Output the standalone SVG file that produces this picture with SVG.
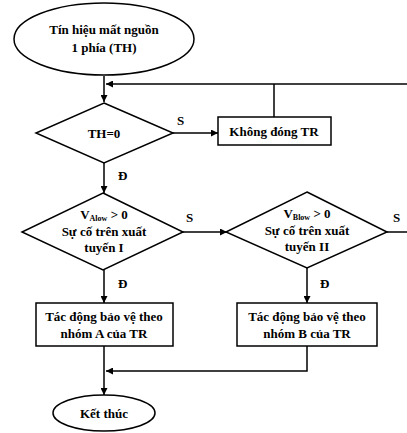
<svg xmlns="http://www.w3.org/2000/svg" width="407" height="433" viewBox="0 0 407 433">
  <style>
    .shape { fill: #ffffff; stroke: #000000; stroke-width: 1.5; }
    .line { fill: none; stroke: #000000; stroke-width: 1.5; }
    text { font-family: "Liberation Serif", "Times New Roman", serif; font-weight: bold; font-size: 13px; fill: #000000; text-anchor: middle; }
    .lbl { text-anchor: start; }
    .sub { font-size: 8px; }
  </style>
  <defs>
    <marker id="arrow" viewBox="0 0 10 10" refX="10" refY="5" markerWidth="7" markerHeight="7" markerUnits="userSpaceOnUse" orient="auto">
      <path d="M0,0 L10,5 L0,10 z" fill="#000000"/>
    </marker>
  </defs>
  <rect width="407" height="433" fill="#ffffff"/>

  <g id="connectors">
    <path class="line" d="M104,76 V102" marker-end="url(#arrow)"/>
    <path class="line" d="M407,84 H106" marker-end="url(#arrow)"/>
    <path class="line" d="M274,117 V84"/>
    <path class="line" d="M173,133 H218" marker-end="url(#arrow)"/>
    <path class="line" d="M104,163 V193" marker-end="url(#arrow)"/>
    <path class="line" d="M183,232 H227" marker-end="url(#arrow)"/>
    <path class="line" d="M387,232 H407"/>
    <path class="line" d="M104,270 V303" marker-end="url(#arrow)"/>
    <path class="line" d="M307,268 V303" marker-end="url(#arrow)"/>
    <path class="line" d="M307,346 V371 H106" marker-end="url(#arrow)"/>
    <path class="line" d="M104,346 V395" marker-end="url(#arrow)"/>
    <text class="lbl" x="177" y="125">S</text>
    <text class="lbl" x="118" y="180">Đ</text>
    <text class="lbl" x="186" y="222">S</text>
    <text class="lbl" x="393" y="222">S</text>
    <text class="lbl" x="118" y="288">Đ</text>
    <text class="lbl" x="320" y="288">Đ</text>
  </g>

  <g id="start">
    <ellipse class="shape" cx="104" cy="39" rx="90" ry="36"/>
    <text x="104" y="34">Tín hiệu mất nguồn</text>
    <text x="104" y="52">1 phía (TH)</text>
  </g>

  <g id="check-th">
    <polygon class="shape" points="104,103 173,133 104,163 36,133"/>
    <text x="104" y="138">TH=0</text>
  </g>

  <g id="no-close">
    <rect class="shape" x="218" y="117" width="113" height="28"/>
    <text x="274" y="136">Không đóng TR</text>
  </g>

  <g id="check-a">
    <polygon class="shape" points="103,193 183,232 103,270 22,232"/>
    <text x="104" y="219">V<tspan class="sub" dy="2">Alow</tspan><tspan dy="-2"> &gt; 0</tspan></text>
    <text x="104" y="236">Sự cố trên xuất</text>
    <text x="104" y="252">tuyến I</text>
  </g>

  <g id="check-b">
    <polygon class="shape" points="307,192 387,232 307,268 226,232"/>
    <text x="307" y="218">V<tspan class="sub" dy="2">Blow</tspan><tspan dy="-2"> &gt; 0</tspan></text>
    <text x="307" y="235">Sự cố trên xuất</text>
    <text x="307" y="251">tuyến II</text>
  </g>

  <g id="group-a">
    <rect class="shape" x="36" y="303" width="137" height="43"/>
    <text x="104" y="321">Tác động bảo vệ theo</text>
    <text x="104" y="338">nhóm A của TR</text>
  </g>

  <g id="group-b">
    <rect class="shape" x="237" y="303" width="140" height="43"/>
    <text x="307" y="321">Tác động bảo vệ theo</text>
    <text x="307" y="338">nhóm B của TR</text>
  </g>

  <g id="end">
    <ellipse class="shape" cx="104" cy="413" rx="51" ry="18"/>
    <text x="104" y="418">Kết thúc</text>
  </g>
</svg>
